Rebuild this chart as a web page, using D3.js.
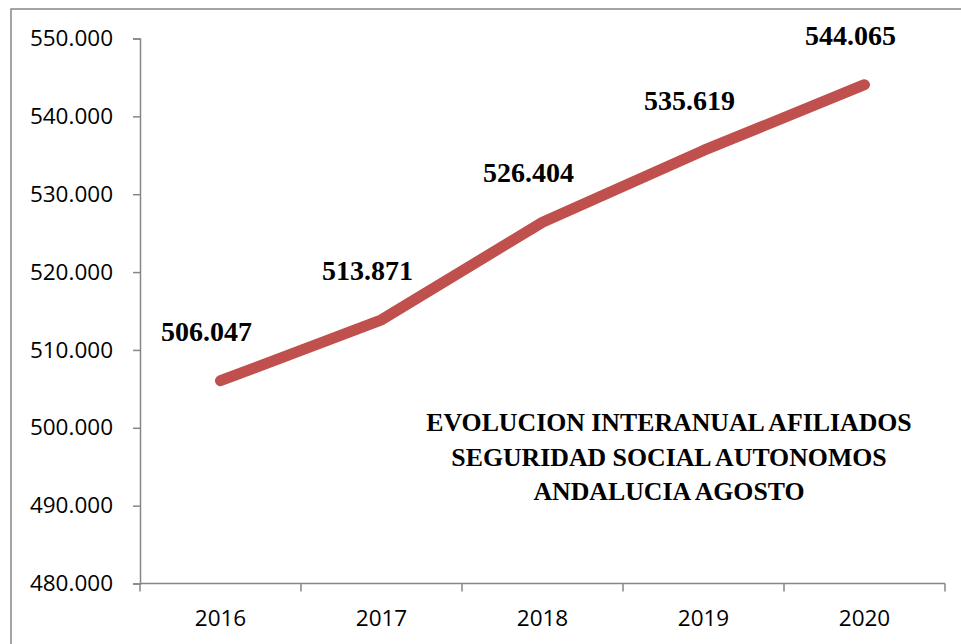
<!DOCTYPE html>
<html><head><meta charset="utf-8">
<script src="https://cdn.jsdelivr.net/npm/d3@7"></script>
<style>body{margin:0;background:#fff}svg{display:block}</style>
</head><body>
<svg id="c" width="961" height="644"></svg>
<script>
const years = ["2016","2017","2018","2019","2020"];
const values = [506047, 513871, 526404, 535619, 544065];
const yTicks = [480000, 490000, 500000, 510000, 520000, 530000, 540000, 550000];
const titleLines = ["EVOLUCION INTERANUAL AFILIADOS","SEGURIDAD SOCIAL AUTONOMOS","ANDALUCIA AGOSTO"];

const svg = d3.select("#c");
const fmt = v => Math.floor(v / 1000) + "." + String(v % 1000).padStart(3, "0");
const fmtTick = v => Math.floor(v/1000) + ".000";

svg.append("rect").attr("x",11).attr("y",9).attr("width",1000).attr("height",700)
  .attr("fill","#fff").attr("stroke","#868686").attr("stroke-width",1.5);

const x = d3.scaleBand().domain(years).range([140,945]);
const y = d3.scaleLinear().domain([480000,550000]).range([583.5,38.5]);

const gy = svg.append("g").attr("transform","translate(140,0)")
  .call(d3.axisLeft(y).tickValues(yTicks).tickFormat(fmtTick).tickSize(7).tickPadding(20));
gy.select(".domain").attr("stroke","#868686").attr("stroke-width",1.5);
gy.selectAll(".tick line").attr("stroke","#868686").attr("stroke-width",1.5);
gy.selectAll("text").attr("font-family","'Open Sans', sans-serif").attr("font-size",22.5).attr("fill","#000");

const gx = svg.append("g").attr("transform","translate(0,583.5)");
gx.append("line").attr("x1",140).attr("x2",945).attr("stroke","#868686").attr("stroke-width",1.5);
const bounds = years.map(d => x(d)).concat([x.range()[1]]);
gx.selectAll("line.t").data(bounds).join("line").attr("class","t")
  .attr("x1",d=>d).attr("x2",d=>d).attr("y1",0).attr("y2",8)
  .attr("stroke","#868686").attr("stroke-width",1.5);
gx.selectAll("text").data(years).join("text")
  .attr("x",d=>x(d)+x.bandwidth()/2).attr("y",42).attr("text-anchor","middle")
  .attr("font-family","'Open Sans', sans-serif").attr("font-size",22.5).attr("fill","#000").text(d=>d);

const cx = d => x(d)+x.bandwidth()/2;
const line = d3.line().x((d,i)=>cx(years[i])).y(d=>y(d));
svg.append("path").datum(values).attr("d",line).attr("fill","none")
  .attr("stroke","#C0504D").attr("stroke-width",11).attr("stroke-linecap","round").attr("stroke-linejoin","round");

svg.selectAll("text.lbl").data(values).join("text").attr("class","lbl")
  .attr("x",(d,i)=>cx(years[i])-14).attr("y",d=>y(d)-40)
  .attr("text-anchor","middle").attr("font-family","'Liberation Serif', serif")
  .attr("font-weight","bold").attr("font-size",28).attr("fill","#000").text(fmt);

svg.selectAll("text.ttl").data(titleLines).join("text").attr("class","ttl")
  .attr("x",669).attr("y",(d,i)=>431+i*34.5).attr("text-anchor","middle")
  .attr("font-family","'Liberation Serif', serif").attr("font-weight","bold")
  .attr("font-size",25.8).attr("fill","#000").text(d=>d);
</script>
</body></html>
